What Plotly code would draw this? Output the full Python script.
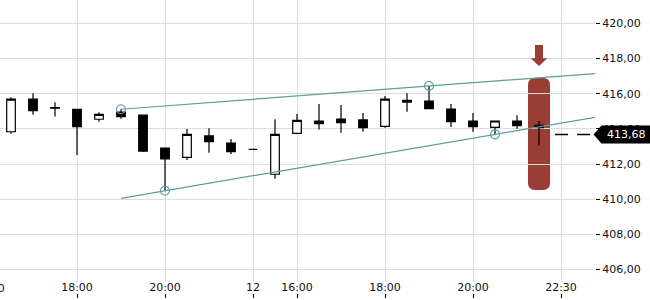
import plotly.graph_objects as go

# ---- data ----
candle_idx = list(range(25))
opens  = [413.84, 415.69, 415.22, 415.12, 414.55, 414.96, 414.79, 412.91, 412.38, 413.60,
          413.20, 412.84, 411.42, 413.75, 414.45, 414.56, 414.51, 414.15, 415.52, 415.59,
          415.13, 414.45, 414.09, 414.45, 414.21]
closes = [415.69, 415.04, 415.18, 414.13, 414.83, 414.70, 412.74, 412.29, 413.69, 413.27,
          412.70, 412.84, 413.69, 414.49, 414.30, 414.35, 414.07, 415.69, 415.63, 415.15,
          414.41, 414.13, 414.45, 414.18, 414.07]
highs  = [415.80, 416.03, 415.52, 415.12, 414.95, 415.12, 414.79, 412.91, 414.00, 414.04,
          413.43, 412.84, 414.55, 414.85, 415.42, 415.36, 414.91, 415.87, 416.03, 416.44,
          415.42, 414.91, 414.45, 414.78, 414.45]
lows   = [413.73, 414.81, 414.70, 412.52, 414.41, 414.58, 412.69, 410.48, 412.23, 412.65,
          412.57, 412.84, 411.17, 413.75, 413.96, 413.78, 413.84, 414.07, 414.98, 415.15,
          414.11, 413.84, 413.69, 414.01, 413.05]

tick_pos  = [-1, 3, 7, 11, 13, 17, 21, 25]
tick_text = ["16:00", "18:00", "20:00", "12", "16:00", "18:00", "20:00", "22:30"]

upper_pivots_x = [5, 19]
upper_pivots_y = [415.12, 416.44]
lower_pivots_x = [7, 22]
lower_pivots_y = [410.48, 413.69]
trend_start = 5

last_price = 413.68
highlight_range = [410.52, 416.90]
arrow_levels = [418.78, 418.02, 417.58]   # shaft top, head base, tip

# ---- layout constants ----
W, H = 650, 300
ML, MR, MT, MB = 0, 55, 0, 7
x_range = [-0.5, 26.545]
y_range = [405.288, 421.337]
y_dom0 = 11 / (H - MT - MB)

TEAL = "#5b9ea0"
RED = "#993d35"
GRID = "#dddddd"
FONT = "DejaVu Sans"

def ext_line(px, py, x0, x1):
    k = (py[1] - py[0]) / (px[1] - px[0])
    return [x0, x1], [py[0] + k * (x0 - px[0]), py[0] + k * (x1 - px[0])]

def ypaper(v):
    return y_dom0 + (v - y_range[0]) / (y_range[1] - y_range[0]) * (1 - y_dom0)

def xpaper(v):
    return (v - x_range[0]) / (x_range[1] - x_range[0])

fig = go.Figure()

fig.add_trace(go.Candlestick(
    x=candle_idx, open=opens, high=highs, low=lows, close=closes,
    increasing=dict(line=dict(color="black", width=1.2), fillcolor="white"),
    decreasing=dict(line=dict(color="black", width=1.2), fillcolor="black"),
    whiskerwidth=0, hoverinfo="skip", showlegend=False,
))

for px, py in [(upper_pivots_x, upper_pivots_y), (lower_pivots_x, lower_pivots_y)]:
    lx, ly = ext_line(px, py, trend_start, x_range[1])
    fig.add_trace(go.Scatter(x=lx, y=ly, mode="lines", line=dict(color=TEAL, width=1.2),
                             hoverinfo="skip", showlegend=False))
    fig.add_trace(go.Scatter(x=px, y=py, mode="markers",
                             marker=dict(symbol="circle-open", size=9, color=TEAL,
                                         line=dict(width=1.1, color=TEAL)),
                             hoverinfo="skip", showlegend=False))

# invisible trace carrying the tick-mark axis
fig.add_trace(go.Scatter(x=tick_pos, y=[None] * len(tick_pos), xaxis="x2", yaxis="y",
                         mode="markers", hoverinfo="skip", showlegend=False))

last = candle_idx[-1]
# rounded highlight box
bx0, bx1 = last - 0.5, last + 0.5
by0, by1 = highlight_range
rx, ry = 7 / 22, 7 / 17.571
box_path = (f"M{bx0+rx},{by1} L{bx1-rx},{by1} Q{bx1},{by1} {bx1},{by1-ry} "
            f"L{bx1},{by0+ry} Q{bx1},{by0} {bx1-rx},{by0} L{bx0+rx},{by0} "
            f"Q{bx0},{by0} {bx0},{by0+ry} L{bx0},{by1-ry} Q{bx0},{by1} {bx0+rx},{by1} Z")
fig.add_shape(type="path", path=box_path, xref="x", yref="y",
              fillcolor=RED, line=dict(width=0), layer="below")

# arrow
sw, hw = 4 / 22, 8.3 / 22
a_top, a_base, a_tip = arrow_levels
arrow_path = (f"M{last-sw},{a_top} L{last+sw},{a_top} L{last+sw},{a_base} "
              f"L{last+hw},{a_base} L{last},{a_tip} L{last-hw},{a_base} "
              f"L{last-sw},{a_base} Z")
fig.add_shape(type="path", path=arrow_path, xref="x", yref="y",
              fillcolor=RED, line=dict(width=0), layer="above")

# dashed last-price line
fig.add_shape(type="line", xref="x", yref="y", x0=last + 0.73, x1=x_range[1],
              y0=last_price, y1=last_price,
              line=dict(color="black", width=1.5, dash="13px,9px"))

# price tag on the axis
pw = W - ML - MR
yc = ypaper(last_price)
half = 9 / (H - MT - MB)
tip_x = 593.5 / pw
body_x = 601.5 / pw
right_x = (W + 2) / pw
tag_path = (f"M{tip_x},{yc} L{body_x},{yc+half} L{right_x},{yc+half} "
            f"L{right_x},{yc-half} L{body_x},{yc-half} Z")
fig.add_shape(type="path", path=tag_path, xref="paper", yref="paper",
              fillcolor="black", line=dict(width=0), layer="above")
fig.add_annotation(xref="paper", yref="paper", x=604.5 / pw, y=yc, xanchor="left",
                   yanchor="middle", showarrow=False,
                   text=f"{last_price:.2f}".replace(".", ","),
                   font=dict(family=FONT, size=11, color="white"))

# tick labels that fall left of the visible range (partly clipped in the reference)
for p, t in zip(tick_pos, tick_text):
    if p < x_range[0]:
        fig.add_annotation(xref="paper", yref="paper", x=xpaper(p), y=y_dom0,
                           xanchor="center", yanchor="middle", yshift=-6, showarrow=False,
                           text=t, font=dict(family=FONT, size=11, color="#111111"))

fig.update_layout(
    width=W, height=H,
    margin=dict(l=ML, r=MR, t=MT, b=MB, pad=0),
    paper_bgcolor="white", plot_bgcolor="white",
    separators=",.",
    font=dict(family=FONT, size=11, color="#111111"),
    showlegend=False, hovermode=False,
    boxgap=0.44,
    xaxis=dict(range=x_range, tickvals=tick_pos, ticktext=tick_text, ticks="",
               ticklabelstandoff=-3,
               showgrid=True, gridcolor=GRID, gridwidth=1, zeroline=False,
               showline=False, rangeslider=dict(visible=False), anchor="y",
               fixedrange=True),
    xaxis2=dict(range=x_range, tickvals=tick_pos, ticks="outside", ticklen=4,
                tickcolor="black", tickwidth=1, showticklabels=False, showgrid=False,
                zeroline=False, showline=False, overlaying="x", anchor="free",
                position=0, fixedrange=True),
    yaxis=dict(range=y_range, domain=[y_dom0, 1], side="right", dtick=2, tick0=0,
               tickformat=".2f", ticks="outside", ticklen=4, tickcolor="black",
               showgrid=True, gridcolor=GRID, gridwidth=1, zeroline=False,
               showline=False, anchor="x", fixedrange=True),
)

fig.write_html("out.html")
